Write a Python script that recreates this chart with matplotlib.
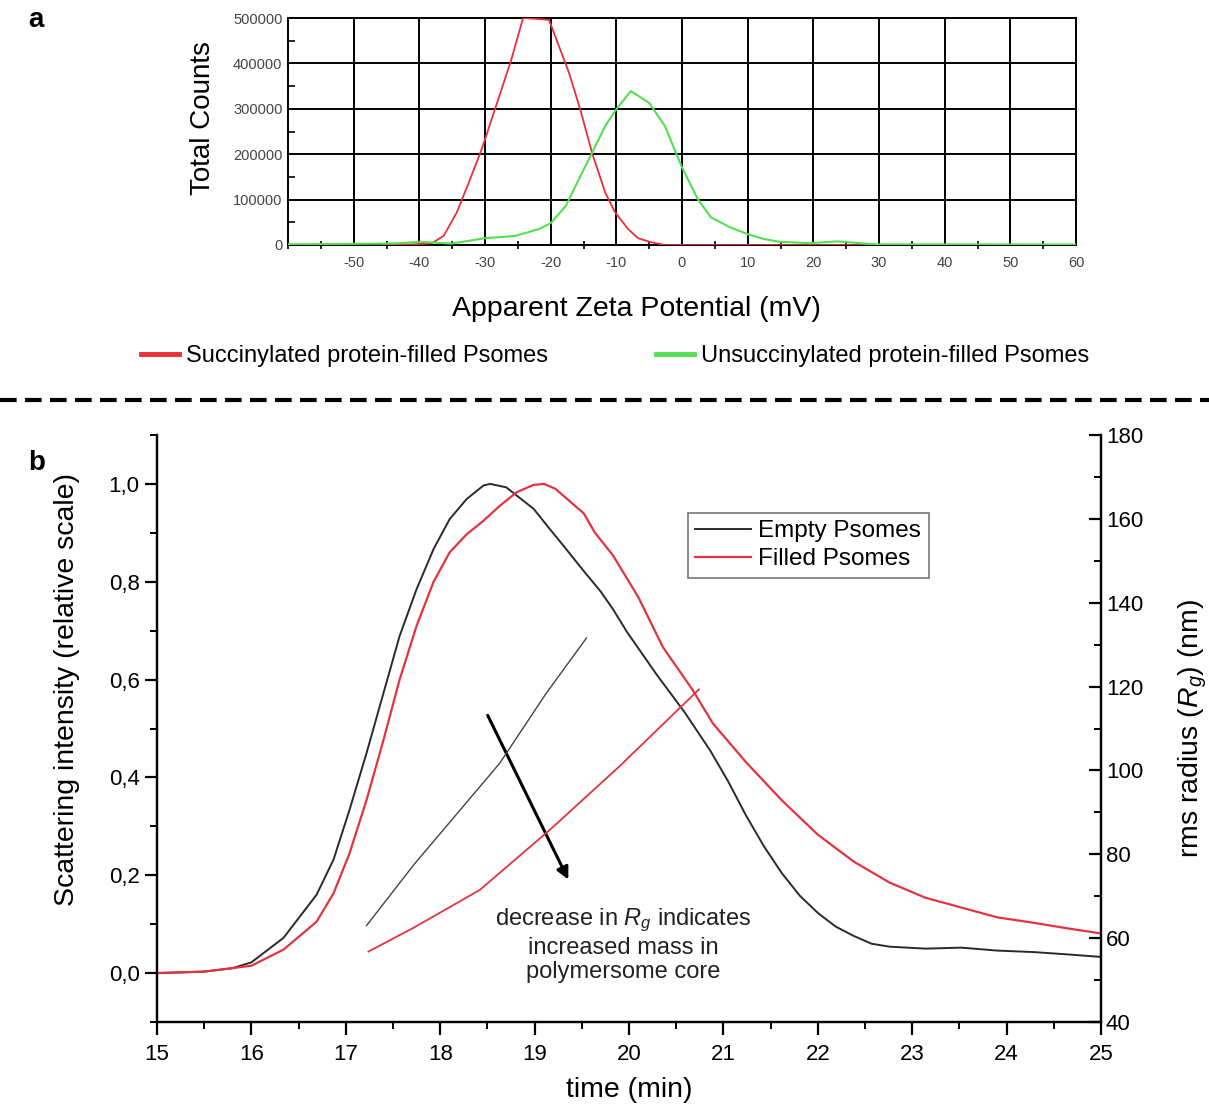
import numpy as np
import matplotlib.pyplot as plt
from matplotlib.lines import Line2D
from matplotlib.ticker import MultipleLocator, FuncFormatter

plt.rcParams['font.family'] = ['Liberation Sans', 'DejaVu Sans']
plt.rcParams['mathtext.fontset'] = 'custom'
plt.rcParams['mathtext.rm'] = 'Liberation Sans'
plt.rcParams['mathtext.it'] = 'Liberation Sans:italic'
plt.rcParams['axes.unicode_minus'] = False

# panel a: zeta potential distributions
zeta_succ = [-45.6, -40, -38.1, -36.3, -34.3, -32.4, -30.5, -28, -26, -24.2, -20.25,
             -17.2, -15.5, -13.7, -11.7, -10.2, -8.2, -6.7, -4.7, -2.6, 0, 30]
counts_succ = [0, 2000, 4000, 20000, 71700, 140000, 211000, 320000, 408000, 500000, 496000,
               379000, 299000, 203000, 116000, 72000, 35000, 15000, 6000, 0, 0, 0]
zeta_unsucc = [-60, -45.6, -43, -39.8, -35.1, -30, -25.4, -21.8, -20, -17.7, -15.7, -13.7,
               -11.7, -10, -7.8, -5, -2.6, -0.1, 2.4, 4.4, 7.3, 10, 12.5, 14.9, 19.5, 23.6,
               27.1, 29.4, 60]
counts_unsucc = [1500, 3000, 4000, 7000, 3000, 15000, 20000, 35000, 48000, 86000, 145000, 203000,
                 262000, 299000, 339000, 313000, 262000, 174000, 101000, 61000, 39000, 24000,
                 13000, 7000, 4000, 8000, 4000, 1500, 1000]

# panel b: scattering intensity vs time
t_empty = [15.0, 15.5, 15.8, 16.0, 16.34, 16.69, 16.87, 17.04, 17.22, 17.4, 17.57, 17.75,
           17.93, 18.1, 18.28, 18.46, 18.53, 18.7, 18.99, 19.16, 19.3, 19.52, 19.7,
           19.83, 19.98, 20.29, 20.59, 20.86, 21.05, 21.24, 21.43, 21.62, 21.81, 22.0, 22.19,
           22.38, 22.57, 22.76, 23.14, 23.52, 23.9, 24.28, 24.66, 25.0]
i_empty = [0.0, 0.003, 0.01, 0.022, 0.072, 0.16, 0.232, 0.334, 0.45, 0.573, 0.689, 0.785,
           0.867, 0.928, 0.969, 0.997, 1.0, 0.993, 0.949, 0.908, 0.875, 0.822, 0.78,
           0.744, 0.697, 0.611, 0.533, 0.455, 0.392, 0.322, 0.259, 0.204, 0.158, 0.123, 0.095,
           0.076, 0.06, 0.054, 0.05, 0.052, 0.046, 0.043, 0.038, 0.033]
t_filled = [15.0, 15.5, 16.0, 16.34, 16.69, 16.87, 17.04, 17.22, 17.4, 17.57, 17.75, 17.93,
            18.1, 18.28, 18.46, 18.63, 18.81, 18.99, 19.1, 19.22, 19.4, 19.52, 19.64, 19.83,
            20.1, 20.36, 20.67, 20.89, 21.24, 21.62, 22.0, 22.38, 22.76, 23.14, 23.52, 23.9,
            24.28, 24.66, 25.0]
i_filled = [0.0, 0.003, 0.015, 0.048, 0.105, 0.163, 0.245, 0.354, 0.477, 0.60, 0.71, 0.80,
            0.86, 0.897, 0.925, 0.955, 0.983, 0.998, 1.0, 0.99, 0.96, 0.94, 0.90, 0.854,
            0.768, 0.666, 0.58, 0.51, 0.431, 0.353, 0.283, 0.228, 0.185, 0.154, 0.134, 0.114,
            0.103, 0.091, 0.081]

# rms radius (right axis)
t_rg_empty = [17.22, 17.72, 18.63, 19.12, 19.55]
rg_empty = [63.0, 77.5, 101.7, 118.3, 131.6]
t_rg_filled = [17.24, 17.72, 18.42, 19.16, 19.9, 20.74]
rg_filled = [56.8, 62.5, 71.5, 85.8, 101.0, 119.3]

red_a = '#e8303c'
green_a = '#52e052'
red_b = '#e23440'
black_b = '#2a2a2a'

fig = plt.figure(figsize=(12.09, 11.06), dpi=100)

# ---------- panel a ----------
axa = fig.add_axes([288/1209, 1-245/1106, 788/1209, 227/1106])
axa.plot(zeta_succ, counts_succ, color=red_a, lw=1.3, zorder=3)
axa.plot(zeta_unsucc, counts_unsucc, color=green_a, lw=1.5, zorder=4)
axa.set_xlim(-60, 60)
axa.set_ylim(0, 500000)
axa.set_xticks(range(-50, 61, 10))
axa.set_yticks(range(0, 500001, 100000))
axa.xaxis.set_minor_locator(MultipleLocator(5))
axa.yaxis.set_minor_locator(MultipleLocator(50000))
axa.grid(True, which='major', color='black', lw=1.4)
for s in axa.spines.values():
    s.set_linewidth(1.4)
axa.tick_params(which='major', length=0, labelsize=10.5, labelcolor='#444', pad=8)
axa.tick_params(axis='y', which='major', pad=4)
axa.tick_params(axis='x', which='minor', direction='inout', length=6, width=1.2)
axa.tick_params(axis='y', which='minor', direction='in', length=5, width=1.2)
axa.set_ylabel('Total Counts', fontsize=20)
axa.yaxis.set_label_coords(-0.091, 0.557)
axa.set_xlabel('Apparent Zeta Potential (mV)', fontsize=20.5)
axa.xaxis.set_label_coords(0.4416, -0.225)

handles = [Line2D([], [], color=red_a, lw=3.5), Line2D([], [], color=green_a, lw=3.5)]
fig.legend(handles, ['Succinylated protein-filled Psomes', 'Unsuccinylated protein-filled Psomes'],
           loc='center left', bbox_to_anchor=(129/1209, 1-356/1106), ncol=2, frameon=False,
           fontsize=17, handlelength=1.6, handletextpad=0.3, columnspacing=4.6, borderpad=0)

fig.add_artist(Line2D([0, 1], [1-400/1106, 1-400/1106], transform=fig.transFigure,
                      color='black', lw=3, ls=(0, (4, 2))))

fig.text(28/1209, 1-20/1106, 'a', fontsize=20, weight='bold', va='center')
fig.text(28/1209, 1-463/1106, 'b', fontsize=20, weight='bold', va='center')

# ---------- panel b ----------
axb = fig.add_axes([157/1209, 1-1022/1106, 944/1209, 587/1106])
l1, = axb.plot(t_empty, i_empty, color=black_b, lw=1.4, label='Empty Psomes')
l2, = axb.plot(t_filled, i_filled, color=red_b, lw=1.6, label='Filled Psomes')
axb.set_xlim(15, 25)
axb.set_ylim(-0.1, 1.1)
axb.set_xticks(range(15, 26))
axb.xaxis.set_minor_locator(MultipleLocator(0.5))
axb.set_yticks(np.arange(0, 1.01, 0.2))
axb.yaxis.set_minor_locator(MultipleLocator(0.1))
axb.yaxis.set_major_formatter(FuncFormatter(lambda v, p: f'{v:.1f}'.replace('.', ',')))
axb.spines['top'].set_visible(False)
for s in axb.spines.values():
    s.set_linewidth(1.6)
axb.tick_params(which='major', direction='out', length=9, width=1.6, labelsize=16)
axb.tick_params(axis='x', which='major', pad=7)
axb.tick_params(which='minor', direction='out', length=5, width=1.4)
axb.set_xlabel('time (min)', fontsize=20.5)
axb.xaxis.set_label_coords(0.5, -0.094)
axb.set_ylabel('Scattering intensity (relative scale)', fontsize=20.5)
axb.yaxis.set_label_coords(-0.0816, 0.566)

axr = axb.twinx()
axr.plot(t_rg_empty, rg_empty, color='#444444', lw=1.0)
axr.plot(t_rg_filled, rg_filled, color=red_b, lw=1.3)
axr.set_ylim(40, 180)
axr.set_yticks(range(40, 181, 20))
axr.yaxis.set_minor_locator(MultipleLocator(10))
axr.spines['top'].set_visible(False)
for s in axr.spines.values():
    s.set_linewidth(1.6)
axr.tick_params(which='major', direction='in', length=9, width=1.6, labelsize=16)
axr.tick_params(which='minor', direction='in', length=5, width=1.4)
axr.set_ylabel('rms radius ($R_g$) (nm)', fontsize=20.5)
axr.yaxis.set_label_coords(1.08, 0.5)

leg = axr.legend([l1, l2], ['Empty Psomes', 'Filled Psomes'], loc='upper left',
                 bbox_to_anchor=(0.5625, 0.867), fontsize=17.5, frameon=True, fancybox=False,
                 edgecolor='#777777', framealpha=1, handlelength=2.3, handletextpad=0.3,
                 labelspacing=0.25, borderpad=0.3, borderaxespad=0)
leg.get_frame().set_linewidth(1.2)

axb.annotate('', xy=(19.37, 0.186), xytext=(18.49, 0.532),
             arrowprops=dict(arrowstyle='-|>', color='black', lw=2.2, mutation_scale=18))
axb.text(19.94, 0.057, 'decrease in $R_g$ indicates\nincreased mass in\npolymersome core',
         ha='center', va='center', fontsize=17, color='#222', linespacing=1.15)

fig.savefig('out.png', dpi=100)
